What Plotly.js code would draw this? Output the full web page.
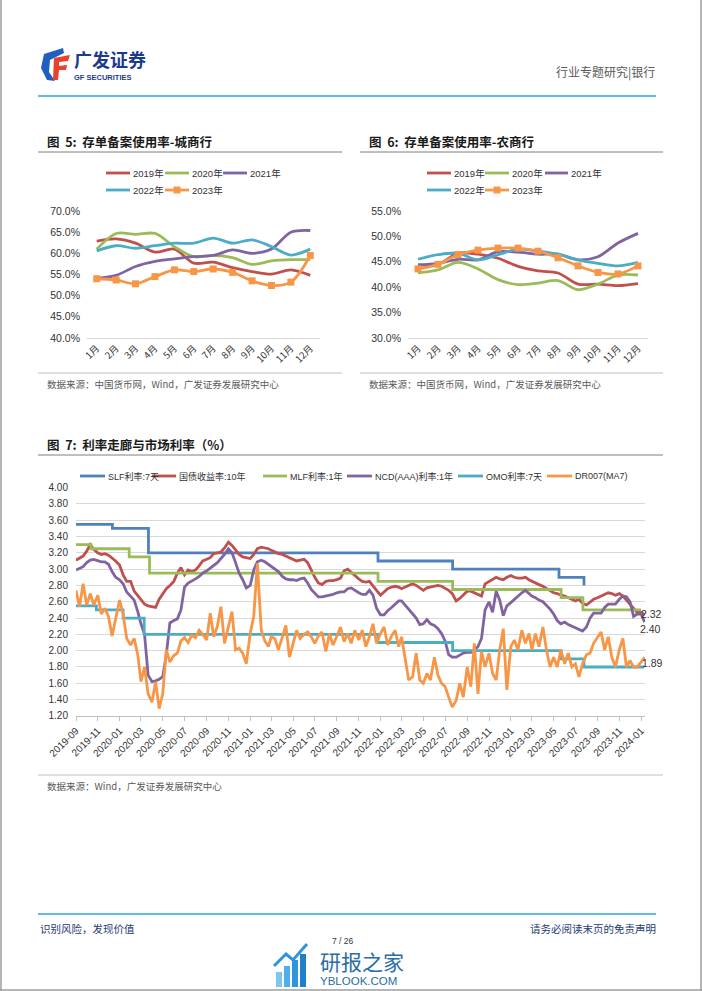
<!DOCTYPE html>
<html><head><meta charset="utf-8">
<script src="https://cdn.plot.ly/plotly-3.0.1.min.js"></script>
<style>html,body{margin:0;padding:0;background:#fff;}#chart{width:702px;height:991px;}</style>
</head><body><div id="chart"></div>
<script>
// ---------- DATA ----------
const months = ['1月','2月','3月','4月','5月','6月','7月','8月','9月','10月','11月','12月'];
const yearNames = ['2019年','2020年','2021年','2022年','2023年'];
// 图5 城商行 (%)
const cs2019 = [62.9,63.4,62.4,60.3,61.0,57.7,57.9,56.6,55.7,55.1,56.1,54.8];
const cs2020 = [61.0,64.7,64.5,64.7,61.6,59.2,59.5,59.0,57.4,58.2,58.5,58.5];
const cs2021 = [54.1,54.8,56.9,58.1,58.7,59.2,59.5,60.8,60.0,61.0,65.0,65.4];
const cs2022 = [60.6,61.8,61.2,61.8,62.4,62.4,63.6,62.4,63.2,61.6,59.6,61.0];
const cs2023 = [54.0,53.7,52.8,54.5,56.1,55.7,56.3,55.5,53.5,52.4,53.2,59.5];
// 图6 农商行 (%)
const rc2019 = [44.4,44.5,46.7,46.5,45.7,44.1,43.2,42.8,40.6,40.6,40.3,40.7];
const rc2020 = [42.8,43.4,44.9,43.6,41.5,40.5,40.8,41.3,39.5,40.6,42.4,42.4];
const rc2021 = [44.4,44.7,45.5,45.4,47.0,46.9,46.5,46.5,45.4,46.0,48.7,50.6];
const rc2022 = [45.5,46.4,46.7,45.4,46.4,47.5,47.1,46.5,45.4,44.7,44.2,44.9];
const rc2023 = [43.6,44.5,46.4,47.3,47.7,47.7,47.1,45.8,44.2,42.9,42.6,44.2];

// 图7 policy rates (step changes)
const slfDates = ['2019-09-01','2019-12-12','2020-03-22','2021-12-25','2022-07-22','2023-05-16','2023-07-25'];
const slfVals  = [3.55,3.50,3.20,3.10,3.00,2.90,2.80];
const mlfDates = ['2019-09-01','2019-10-13','2020-01-28','2020-03-25','2021-12-25','2022-07-22','2023-05-22','2023-07-22','2024-01-01'];
const mlfVals  = [3.30,3.25,3.15,2.95,2.85,2.75,2.65,2.50,2.50];
const omoDates = ['2019-09-01','2019-10-28','2020-01-11','2020-03-10','2021-12-25','2022-07-22','2023-05-22','2023-07-25','2024-01-10'];
const omoVals  = [2.55,2.50,2.40,2.20,2.10,2.00,1.90,1.80,1.80];

// 图7 market rates, sampled on the 1st/11th/21st of each month, 2019-09-01 .. 2024-01-11
const cgb10y = [3.11,3.14,3.16,3.22,3.30,3.24,3.20,3.18,3.19,3.17,3.14,3.10,3.05,2.93,2.85,2.85,2.73,2.67,2.62,2.57,
2.55,2.54,2.53,2.63,2.70,2.76,2.80,2.85,2.95,3.02,2.93,2.99,2.97,2.99,3.04,3.10,3.12,3.14,3.19,3.20,
3.21,3.26,3.33,3.29,3.24,3.18,3.15,3.14,3.13,3.18,3.25,3.27,3.26,3.25,3.23,3.21,3.19,3.18,3.16,3.14,
3.12,3.10,3.11,3.12,3.08,2.98,2.90,2.83,2.81,2.85,2.86,2.86,2.87,2.89,2.98,3.00,2.96,2.92,2.88,2.85,
2.84,2.85,2.79,2.74,2.68,2.72,2.76,2.78,2.79,2.78,2.76,2.78,2.80,2.82,2.80,2.77,2.74,2.77,2.78,2.79,
2.80,2.79,2.77,2.74,2.70,2.61,2.64,2.68,2.73,2.73,2.71,2.68,2.67,2.82,2.85,2.88,2.90,2.88,2.87,2.90,
2.92,2.90,2.89,2.89,2.90,2.87,2.85,2.83,2.81,2.79,2.76,2.73,2.71,2.70,2.68,2.67,2.65,2.63,2.61,2.63,
2.58,2.56,2.59,2.63,2.65,2.67,2.69,2.71,2.70,2.68,2.70,2.67,2.62,2.57,2.52,2.47,2.47,2.44];
const ncd1y = [2.99,3.01,3.03,3.08,3.11,3.12,3.10,3.09,3.09,3.06,2.97,2.90,2.87,2.82,2.72,2.66,2.62,2.48,2.33,2.20,
1.70,1.62,1.63,1.65,1.68,1.95,2.34,2.37,2.39,2.50,2.78,2.83,2.85,2.88,2.91,2.95,2.98,3.01,3.04,3.08,
3.13,3.18,3.25,3.20,3.08,2.95,2.87,2.77,2.80,2.99,3.09,3.11,3.09,3.06,3.03,3.00,2.97,2.91,2.88,2.87,
2.87,2.86,2.88,2.89,2.83,2.75,2.70,2.66,2.66,2.67,2.68,2.69,2.71,2.72,2.72,2.76,2.77,2.74,2.71,2.69,
2.69,2.74,2.68,2.52,2.44,2.44,2.49,2.53,2.57,2.61,2.61,2.56,2.51,2.45,2.40,2.32,2.33,2.38,2.33,2.31,
2.27,2.21,2.12,1.95,1.92,1.92,1.94,1.97,1.98,1.98,2.01,2.05,2.15,2.50,2.60,2.47,2.73,2.62,2.43,2.55,
2.59,2.63,2.67,2.71,2.74,2.70,2.67,2.65,2.62,2.60,2.56,2.51,2.45,2.37,2.33,2.35,2.32,2.30,2.29,2.27,
2.24,2.29,2.40,2.46,2.46,2.46,2.53,2.57,2.57,2.57,2.63,2.67,2.66,2.60,2.42,2.45,2.45,2.35];
const dr007 = [2.74,2.54,2.82,2.56,2.70,2.56,2.68,2.45,2.52,2.42,2.18,2.40,2.62,2.45,2.15,2.07,2.15,1.95,1.62,1.80,
1.47,1.37,1.62,1.29,1.47,2.01,1.86,1.94,1.97,2.12,2.16,2.10,2.19,2.16,2.25,2.20,2.13,2.46,2.17,2.30,
2.54,2.09,2.30,2.48,2.01,2.03,1.97,1.84,2.21,2.42,3.07,2.25,2.12,2.05,2.17,2.15,2.01,2.18,2.31,1.92,
2.10,2.25,2.15,2.20,2.23,2.17,2.09,2.18,2.23,1.99,2.21,2.07,2.18,2.29,2.11,2.21,2.09,2.25,2.13,2.25,
2.05,2.17,2.33,2.09,2.21,2.29,2.07,2.18,2.25,2.05,2.17,1.90,1.64,1.68,1.97,1.64,1.60,1.72,1.64,1.92,
1.70,1.60,1.56,1.43,1.31,1.39,1.60,1.43,1.80,1.56,2.09,1.47,1.99,1.80,1.97,1.72,1.64,2.01,2.27,1.52,
2.05,2.13,2.01,2.25,2.09,2.21,2.01,2.21,2.05,2.29,2.01,1.80,1.92,1.80,2.01,1.84,1.97,1.80,1.84,1.68,
1.84,1.95,1.97,2.09,2.17,2.23,2.01,2.17,1.92,1.80,2.01,2.15,1.80,1.88,1.80,1.80,1.86,1.92];
const endLabels = ['2.32','2.40','1.89'];
const rateNames = ['SLF利率:7天','国债收益率:10年','MLF利率:1年','NCD(AAA)利率:1年','OMO利率:7天','DR007(MA7)'];

// sample dates (1st, 11th, 21st of each month)
const dates = [];
(function(){let y=2019,m=9;while(dates.length<dr007.length){for(const d of ['01','11','21']){if(dates.length<dr007.length)dates.push(y+'-'+String(m).padStart(2,'0')+'-'+d);}m++;if(m>12){m=1;y++;}}})();

// ---------- STYLE ----------
const W=702,H=991;
const X=v=>v/W, Y=v=>1-v/H;
const C={red:'#C0504D',green:'#9BBB59',purple:'#8064A2',cyan:'#4BACC6',orange:'#F79646',blue:'#4F81BD'};
const yearColors=[C.red,C.green,C.purple,C.cyan,C.orange];
const NUM='Liberation Sans, Arial, Noto Sans CJK SC, sans-serif';
const CJK='Noto Sans CJK SC, Liberation Sans, sans-serif';

const traces=[];
function yearTraces(sets,xa,ya){
  sets.forEach((vals,i)=>{
    const t={x:months,y:vals,xaxis:xa,yaxis:ya,type:'scatter',mode:i===4?'lines+markers':'lines',
      line:{color:yearColors[i],width:2.8,shape:'spline',smoothing:0.9},hoverinfo:'skip'};
    if(i===4)t.marker={symbol:'square',size:7,color:C.orange};
    traces.push(t);
  });
}
yearTraces([cs2019,cs2020,cs2021,cs2022,cs2023],'x','y');
yearTraces([rc2019,rc2020,rc2021,rc2022,rc2023],'x2','y2');

const LW=2.8;
traces.push({x:slfDates,y:slfVals,xaxis:'x3',yaxis:'y3',mode:'lines',line:{color:C.blue,width:LW,shape:'hv'}});
traces.push({x:dates,y:cgb10y,xaxis:'x3',yaxis:'y3',mode:'lines',line:{color:C.red,width:LW}});
traces.push({x:mlfDates,y:mlfVals,xaxis:'x3',yaxis:'y3',mode:'lines',line:{color:C.green,width:LW,shape:'hv'}});
traces.push({x:dates,y:ncd1y,xaxis:'x3',yaxis:'y3',mode:'lines',line:{color:C.purple,width:LW}});
traces.push({x:omoDates,y:omoVals,xaxis:'x3',yaxis:'y3',mode:'lines',line:{color:C.cyan,width:LW,shape:'hv'}});
traces.push({x:dates,y:dr007,xaxis:'x3',yaxis:'y3',mode:'lines',line:{color:C.orange,width:LW}});

const shapes=[], ann=[];
function hline(x1,x2,y,color,w){shapes.push({type:'line',xref:'paper',yref:'paper',x0:X(x1),x1:X(x2),y0:Y(y),y1:Y(y),line:{color:color,width:w}});}
function text(x,y,t,size,color,anchor,family){ann.push({xref:'paper',yref:'paper',x:X(x),y:Y(y),text:t,showarrow:false,xanchor:anchor||'left',yanchor:'middle',font:{size:size,color:color,family:family||CJK}});}
function legendItem(x1,x2,y,color,label,marker,size){
  hline(x1,x2,y,color,2.8);
  if(marker){const mx=(x1+x2)/2;shapes.push({type:'rect',xref:'paper',yref:'paper',x0:X(mx-3.5),x1:X(mx+3.5),y0:Y(y+3.5),y1:Y(y-3.5),fillcolor:color,line:{width:0}});}
  text(x2+1,y,label,size||9.5,'#333',null,NUM);
}
function pth(pts){return pts.map((p,i)=>(i?'L':'M')+X(p[0]).toFixed(5)+','+Y(p[1]).toFixed(5)).join(' ')+' Z';}

// header
shapes.push({type:'path',xref:'paper',yref:'paper',fillcolor:'#1F5FBF',line:{width:0},
  path:pth([[63,48],[44,54],[41,68],[47,80],[55,81],[49,72],[50,60],[64,53]])});
shapes.push({type:'path',xref:'paper',yref:'paper',fillcolor:'#E8412C',line:{width:0},
  path:pth([[54,58],[70,55],[68,61],[59,62],[59,66],[67,65],[66,70],[59,70],[58,80],[53,80]])});
text(72,59,'<b>广发证券</b>',18,'#1B3B8C');
text(72,77.5,'<b>GF SECURITIES</b>',7.5,'#1B3B8C',null,NUM);
text(657,72,'行业专题研究|银行',12,'#595959','right');
hline(38,656,96,'#2AA7DF',1.6);

// figure 5 / 6 titles
text(45,141,'<b>图  5:  存单备案使用率-城商行</b>',12.5,'#1a1a1a');
text(367,141,'<b>图  6:  存单备案使用率-农商行</b>',12.5,'#1a1a1a');
hline(38,342,152,'#7F7F7F',1);
hline(360,663,152,'#7F7F7F',1);
hline(38,342,373,'#BFBFBF',1);
hline(360,663,373,'#BFBFBF',1);
text(45,384,'数据来源：中国货币网，Wind，广发证券发展研究中心',9.5,'#595959');
text(367,384,'数据来源：中国货币网，Wind，广发证券发展研究中心',9.5,'#595959');

// small legends
[[106,130,173],[165,189,173],[223,247,173],[106,130,190],[165,189,190]].forEach((p,i)=>legendItem(p[0],p[1],p[2],yearColors[i],yearNames[i],i===4));
[[427,451,173],[485,509,173],[545,568,173],[427,451,190],[485,509,190]].forEach((p,i)=>legendItem(p[0],p[1],p[2],yearColors[i],yearNames[i],i===4));

// figure 7
text(45,445,'<b>图  7:  利率走廊与市场利率（%）</b>',12.5,'#1a1a1a');
hline(38,663,455,'#7F7F7F',1);
const rateColors=[C.blue,C.red,C.green,C.purple,C.cyan,C.orange];
[[80,105],[152,176],[263,287],[347,372],[458,483],[547,572]].forEach((p,i)=>legendItem(p[0],p[1],476,rateColors[i],rateNames[i],false,9));
ann.push({xref:'paper',yref:'paper',x:X(639),y:Y(614),text:endLabels[0],showarrow:false,xanchor:'left',yanchor:'middle',font:{size:10.5,color:'#333',family:NUM}});
ann.push({xref:'paper',yref:'paper',x:X(638),y:Y(629),text:endLabels[1],showarrow:false,xanchor:'left',yanchor:'middle',font:{size:10.5,color:'#333',family:NUM}});
ann.push({xref:'paper',yref:'paper',x:X(640),y:Y(663),text:endLabels[2],showarrow:false,xanchor:'left',yanchor:'middle',font:{size:10.5,color:'#333',family:NUM}});
hline(38,663,775,'#BFBFBF',1);
text(45,786,'数据来源：Wind，广发证券发展研究中心',9.5,'#595959');

// footer
hline(38,656,914,'#2AA7DF',1.6);
text(38,928,'识别风险，发现价值',10.5,'#1F3B73');
text(658,928,'请务必阅读末页的免责声明',10.5,'#1F3B73','right');
// watermark
[[276,972],[284,966],[292,960],[300,954]].forEach((b,i)=>shapes.push({type:'rect',xref:'paper',yref:'paper',x0:X(b[0]),x1:X(b[0]+6),y0:Y(987),y1:Y(b[1]),fillcolor:['#7CC7F2','#4DB0EC','#2E96DE','#1E7FCB'][i],line:{width:0}}));
shapes.push({type:'path',xref:'paper',yref:'paper',line:{color:'#2E96DE',width:3},path:pth([[274,966],[286,954],[293,960],[307,944]]).replace(' Z','')});
text(318,961,'研报之家',21,'#2B6CA6');
text(318,981,'YBLOOK.COM',11.5,'#2B6CA6',null,NUM);
text(343,941,'7 / 26',8.5,'#333','center',NUM);
// page border
shapes.push({type:'line',xref:'paper',yref:'paper',x0:X(1),x1:X(1),y0:0,y1:1,line:{color:'#9E9E9E',width:1.5}});
shapes.push({type:'line',xref:'paper',yref:'paper',x0:X(701),x1:X(701),y0:0,y1:1,line:{color:'#9E9E9E',width:1.5}});
shapes.push({type:'line',xref:'paper',yref:'paper',x0:0,x1:1,y0:Y(990),y1:Y(990),line:{color:'#9E9E9E',width:1.5}});

const tickF={size:10,color:'#333',family:NUM};
const catAxis=(d)=>({domain:d,type:'category',range:[-0.5,11.5],tickangle:-45,tickfont:{size:9.5,color:'#333',family:CJK},
  showgrid:false,showline:true,linecolor:'#D9D9D9',linewidth:1,ticks:'',zeroline:false,fixedrange:true});
const pctAxis=(d,lo,hi,anchor)=>({domain:d,anchor:anchor,range:[lo-0.01,hi+0.01],dtick:5,tick0:lo,tickformat:'.1f',ticksuffix:'%',
  tickfont:{size:10.5,color:'#333',family:NUM},showgrid:false,showline:false,zeroline:false,ticks:'',ticklabelstandoff:6,fixedrange:true});

const layout={width:W,height:H,margin:{l:0,r:0,t:0,b:0},showlegend:false,paper_bgcolor:'#fff',plot_bgcolor:'#fff',
  xaxis:Object.assign(catAxis([X(87),X(320)]),{anchor:'y'}),
  yaxis:pctAxis([Y(338),Y(211)],40,70,'x'),
  xaxis2:Object.assign(catAxis([X(408),X(648)]),{anchor:'y2'}),
  yaxis2:pctAxis([Y(338),Y(211)],30,55,'x2'),
  xaxis3:{domain:[X(76),X(645)],anchor:'y3',type:'date',range:['2019-09-01','2024-01-12'],tickformat:'%Y-%m',dtick:'M2',tick0:'2019-09-01',
    tickangle:-45,tickfont:tickF,ticks:'outside',ticklen:4,tickcolor:'#BFBFBF',showline:true,linecolor:'#BFBFBF',showgrid:false,zeroline:false,fixedrange:true},
  yaxis3:{domain:[Y(716),Y(487.5)],anchor:'x3',range:[1.199,4.001],dtick:0.2,tick0:1.2,tickformat:'.2f',tickfont:tickF,
    showgrid:true,gridcolor:'#D9D9D9',gridwidth:1,zeroline:false,showline:false,ticks:'',ticklabelstandoff:7,fixedrange:true},
  shapes:shapes,annotations:ann};
Plotly.newPlot('chart',traces,layout,{staticPlot:true,displayModeBar:false});
</script></body></html>
